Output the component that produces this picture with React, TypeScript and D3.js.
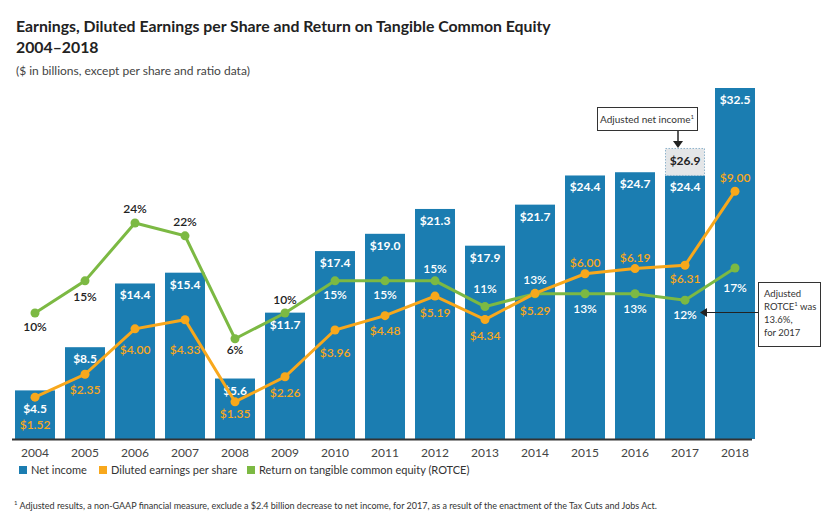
import * as d3 from 'd3';
import React from 'react';

const years = ['2004', '2005', '2006', '2007', '2008', '2009', '2010', '2011', '2012', '2013', '2014', '2015', '2016', '2017', '2018'];
const netIncome = [4.5, 8.5, 14.4, 15.4, 5.6, 11.7, 17.4, 19.0, 21.3, 17.9, 21.7, 24.4, 24.7, 24.4, 32.5];
const eps = [1.52, 2.35, 4.0, 4.33, 1.35, 2.26, 3.96, 4.48, 5.19, 4.34, 5.29, 6.0, 6.19, 6.31, 9.0];
const rotce = [10, 15, 24, 22, 6, 10, 15, 15, 15, 11, 13, 13, 13, 12, 17];
const adjustedNetIncome2017 = 26.9;

// label offsets from the marker (px), picked so labels sit where the original has them
const epsLabelDy = [28, 16, 21, 30, 12, 16, 23, 15, 17, 16, 18, -11, -11, 14, -13];
const rotceLabelDy = [14, 16, -14, -14, 11, -13, 14, 14, -12, -18, -14, 15, 15, 15, 20];

const W = 837;
const H = 521;
const BLUE = '#1b7db1';
const ORANGE = '#f8a81c';
const GREEN = '#7cb943';
const FONT = 'Lato, "Open Sans", sans-serif';

const x = d3.scaleBand<string>().domain(years).range([10, 760]).paddingInner(0.2).paddingOuter(0.1);
const yBar = d3.scaleLinear().domain([0, 32.5]).range([439, 88]);
const yEps = d3.scaleLinear().domain([0, 9]).range([439, 191.2]);
const yRot = d3.scaleLinear().domain([0, 24]).range([377.3, 223]);

const cx = (y: string) => (x(y) as number) + x.bandwidth() / 2;

const epsLine = d3.line<number>().x((_, i) => cx(years[i])).y(d => yEps(d));
const rotLine = d3.line<number>().x((_, i) => cx(years[i])).y(d => yRot(d));

const legend = [
  {label: 'Net income', color: BLUE, x: 19},
  {label: 'Diluted earnings per share', color: ORANGE, x: 99},
  {label: 'Return on tangible common equity (ROTCE)', color: GREEN, x: 247},
];

export default function App() {
  const bw = x.bandwidth();
  const i17 = years.indexOf('2017');
  const x17 = x('2017') as number;

  // is a rotce label inside its bar?
  const onBar = (i: number) => yRot(rotce[i]) + rotceLabelDy[i] > yBar(netIncome[i]) + 4;

  return (
    <svg width={W} height={H} style={{position: 'absolute', left: 0, top: 0, fontFamily: FONT}}>
      <rect width={W} height={H} fill='#fff'/>
      <text x={16} y={32} fontSize={15.8} fontWeight={700} fill='#222'>
        Earnings, Diluted Earnings per Share and Return on Tangible Common Equity
      </text>
      <text x={16} y={53} fontSize={15.8} fontWeight={700} fill='#222'>2004–2018</text>
      <text x={16} y={75} fontSize={12} fill='#444'>($ in billions, except per share and ratio data)</text>

      {years.map((yr, i) => (
        <rect key={yr} x={x(yr)} y={yBar(netIncome[i])} width={bw} height={yBar(0) - yBar(netIncome[i])} fill={BLUE}/>
      ))}
      <rect x={x17 + 0.5} y={yBar(adjustedNetIncome2017)} width={bw - 1}
        height={yBar(netIncome[i17]) - yBar(adjustedNetIncome2017)}
        fill='#e4e6e8' stroke='#8fb4cc' strokeWidth={1} strokeDasharray='1.5,1.5'/>
      <text x={cx('2017')} y={yBar(adjustedNetIncome2017) + 17} textAnchor='middle' fontSize={12} fontWeight={700} fill='#222'>
        ${adjustedNetIncome2017.toFixed(1)}
      </text>

      {years.map((yr, i) => (
        <text key={yr} x={cx(yr)} y={yBar(netIncome[i]) + (i === 0 ? 23 : 16)} textAnchor='middle' fontSize={12} fontWeight={700} fill='#fff'>
          ${netIncome[i].toFixed(1)}
        </text>
      ))}

      <line x1={12} x2={752} y1={439.5} y2={439.5} stroke='#333' strokeWidth={2}/>
      {years.map(yr => (
        <text key={yr} x={cx(yr)} y={457} textAnchor='middle' fontSize={12} fill='#444'>{yr}</text>
      ))}

      <path d={rotLine(rotce) as string} fill='none' stroke={GREEN} strokeWidth={3}/>
      <path d={epsLine(eps) as string} fill='none' stroke={ORANGE} strokeWidth={3}/>
      {rotce.map((v, i) => (
        <circle key={'r' + i} cx={cx(years[i])} cy={yRot(v)} r={4.5} fill={GREEN}/>
      ))}
      {eps.map((v, i) => (
        <circle key={'e' + i} cx={cx(years[i])} cy={yEps(v)} r={4.5} fill={ORANGE}/>
      ))}

      {rotce.map((v, i) => (
        <text key={'rl' + i} x={cx(years[i])} y={yRot(v) + rotceLabelDy[i] + 4} textAnchor='middle'
          fontSize={12} fontWeight={600} fill={onBar(i) ? '#fff' : '#222'}>
          {v}%
        </text>
      ))}
      {eps.map((v, i) => (
        <text key={'el' + i} x={cx(years[i])} y={yEps(v) + epsLabelDy[i] + 4} textAnchor='middle'
          fontSize={12} fontWeight={600} fill={ORANGE}>
          ${v.toFixed(2)}
        </text>
      ))}

      {/* adjusted net income callout */}
      <rect x={597.5} y={107.5} width={100} height={23} fill='#fff' stroke='#333' strokeWidth={1}/>
      <text x={647} y={123} textAnchor='middle' fontSize={10} fill='#333'>
        Adjusted net income<tspan fontSize={6} dy={-4}>1</tspan>
      </text>
      <line x1={678} x2={678} y1={131} y2={142} stroke='#222' strokeWidth={1.5}/>
      <path d='M673,141 L683,141 L678,148 Z' fill='#222'/>

      {/* adjusted ROTCE callout */}
      <rect x={758.5} y={282.5} width={62} height={64} fill='#fff' stroke='#333' strokeWidth={1}/>
      <text x={764} y={297} fontSize={9.5} fill='#333'>
        <tspan x={764}>Adjusted</tspan>
        <tspan x={764} dy={13}>ROTCE<tspan fontSize={6} dy={-4}>1</tspan><tspan dy={4}> was</tspan></tspan>
        <tspan x={764} dy={13}>13.6%,</tspan>
        <tspan x={764} dy={13}>for 2017</tspan>
      </text>
      <line x1={706} x2={758} y1={312.5} y2={312.5} stroke='#222' strokeWidth={1}/>
      <path d='M700,312.5 L707,308 L707,317 Z' fill='#222'/>

      {legend.map(l => (
        <g key={l.label}>
          <rect x={l.x} y={466} width={8} height={8} fill={l.color}/>
          <text x={l.x + 12} y={474} fontSize={11} fill='#333'>{l.label}</text>
        </g>
      ))}

      <text x={14} y={509} fontSize={9} fill='#333'>
        <tspan fontSize={6} dy={-4}>1</tspan>
        <tspan dx={2} dy={4}>Adjusted results, a non-GAAP financial measure, exclude a $2.4 billion decrease to net income, for 2017, as a result of the enactment of the Tax Cuts and Jobs Act.</tspan>
      </text>
    </svg>
  );
}
